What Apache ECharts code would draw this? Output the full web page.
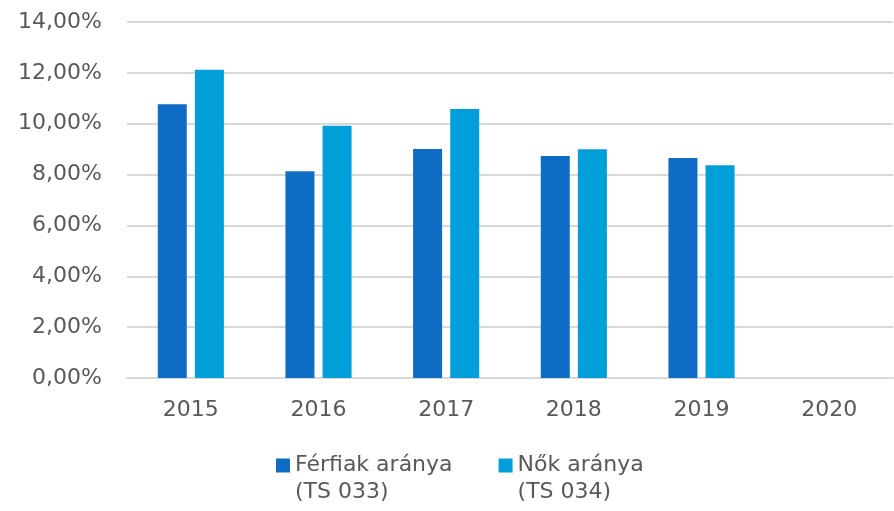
<!DOCTYPE html>
<html lang="hu">
<head>
    <meta charset="UTF-8">
    <title>Férfiak és nők aránya</title>
    <script src="https://cdn.jsdelivr.net/npm/echarts@6/dist/echarts.min.js"></script>
</head>
<body style="margin:0;background:#ffffff;">
    <div id="main" style="width:894px;height:511px;"></div>
    <script type="text/javascript">
        // adatok
        var years = ['2015', '2016', '2017', '2018', '2019', '2020'];
        var ferfiak = [10.77, 8.13, 9.01, 8.73, 8.65, null];
        var nok = [12.12, 9.92, 10.58, 9.00, 8.37, null];
        var seriesNames = ['Férfiak aránya\n(TS 033)', 'Nők aránya\n(TS 034)'];

        var font = 'DejaVu Sans, Verdana, sans-serif';
        var textColor = '#595959';

        var myChart = echarts.init(document.getElementById('main'));
        myChart.setOption({
            animation: false,
            color: ['#0F6CC5', '#009FDA'],
            grid: { left: 127, right: 1, top: 22, bottom: 133 },
            legend: {
                left: 276,
                top: 425,
                padding: 0,
                itemGap: 46,
                itemWidth: 14,
                itemHeight: 14,
                icon: 'rect',
                // üres első sor, hogy a jel az első sorhoz igazodjon
                formatter: function (name) {
                    return ' \n' + name;
                },
                textStyle: {
                    color: textColor,
                    fontFamily: font,
                    fontSize: 22,
                    lineHeight: 27
                },
                data: seriesNames
            },
            xAxis: {
                type: 'category',
                data: years,
                axisTick: { show: false },
                axisLine: { lineStyle: { color: '#D9D9D9', width: 2 } },
                axisLabel: { color: textColor, fontFamily: font, fontSize: 22, margin: 21 }
            },
            yAxis: {
                type: 'value',
                min: 0,
                max: 14,
                interval: 2,
                axisLine: { show: false },
                axisTick: { show: false },
                splitLine: { lineStyle: { color: '#D9D9D9', width: 2 } },
                axisLabel: {
                    color: textColor,
                    fontFamily: font,
                    fontSize: 22,
                    margin: 25,
                    formatter: function (v) {
                        return v.toFixed(2).replace('.', ',') + '%';
                    }
                }
            },
            series: [
                { name: seriesNames[0], type: 'bar', data: ferfiak, barWidth: 29, barGap: '28%' },
                { name: seriesNames[1], type: 'bar', data: nok, barWidth: 29, barGap: '28%' }
            ]
        });
    </script>
</body>
</html>
